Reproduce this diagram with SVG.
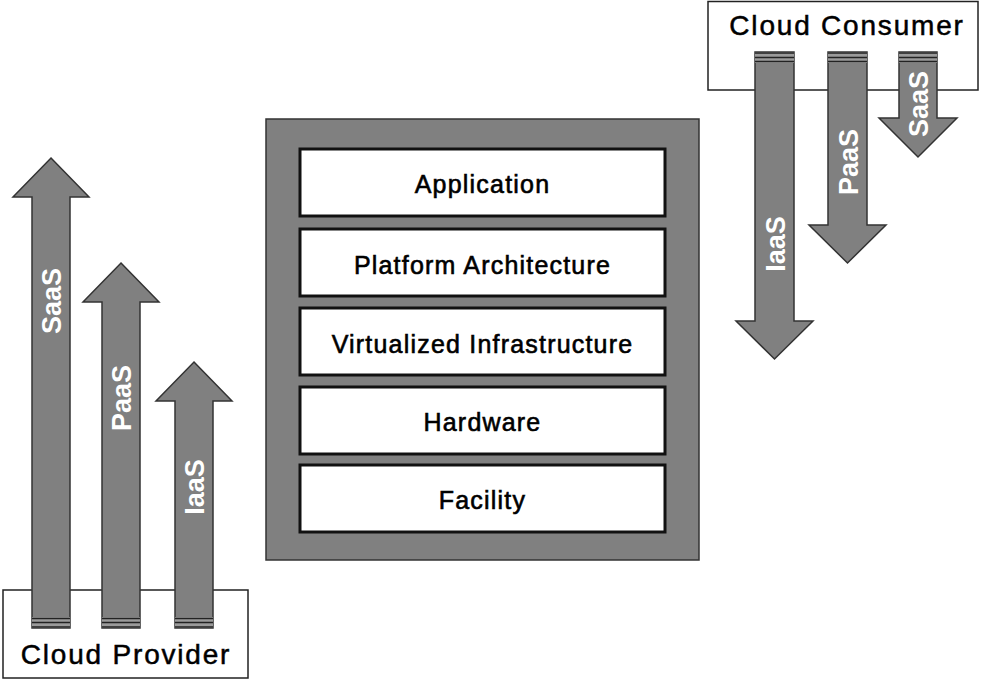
<svg xmlns="http://www.w3.org/2000/svg" width="987" height="679" viewBox="0 0 987 679">
<style>
.actor{fill:#fff;stroke:#222;stroke-width:1.5}
.actor-label{font-family:"Liberation Sans",Arial,sans-serif;font-size:28px;letter-spacing:1.8px;fill:#000;stroke:#000;stroke-width:0.5;text-anchor:middle}
.arrow{fill:#808080;stroke:#333;stroke-width:1.5;stroke-linejoin:miter}
.stripe-bg{fill:#9a9a9a}
.stripe{stroke:#222;stroke-width:1.6}
.arrow-label{font-family:"Liberation Sans",Arial,sans-serif;font-size:27px;font-weight:bold;fill:#fff;text-anchor:middle}
.panel{fill:#808080;stroke:#333;stroke-width:1.5}
.layer{fill:#fff;stroke:#111;stroke-width:3}
.layer-label{font-family:"Liberation Sans",Arial,sans-serif;font-size:25px;letter-spacing:1.2px;fill:#000;stroke:#000;stroke-width:0.6;text-anchor:middle}
</style>
<rect width="987" height="679" fill="#fff"/>

<g id="cloud-provider">
<rect class="actor" x="3" y="590" width="245" height="88"/>
<text class="actor-label" x="126" y="664">Cloud Provider</text>
</g>

<g id="cloud-consumer">
<rect class="actor" x="708" y="1.5" width="270" height="88.5"/>
<text class="actor-label" x="847" y="35">Cloud Consumer</text>
</g>

<g id="stack">
<rect class="panel" x="266" y="119" width="433" height="441"/>
<g id="layer-application">
<rect class="layer" x="300" y="149" width="365" height="67"/>
<text class="layer-label" x="482.5" y="193">Application</text>
</g>
<g id="layer-platform">
<rect class="layer" x="300" y="229" width="365" height="67"/>
<text class="layer-label" x="482.5" y="274">Platform Architecture</text>
</g>
<g id="layer-virtualized">
<rect class="layer" x="300" y="308" width="365" height="67"/>
<text class="layer-label" x="482.5" y="353">Virtualized Infrastructure</text>
</g>
<g id="layer-hardware">
<rect class="layer" x="300" y="387" width="365" height="67"/>
<text class="layer-label" x="482.5" y="431">Hardware</text>
</g>
<g id="layer-facility">
<rect class="layer" x="300" y="465" width="365" height="67"/>
<text class="layer-label" x="482.5" y="509">Facility</text>
</g>
</g>

<g id="connectors">
<g id="provider-saas">
<polygon class="arrow" points="51,158 89,197 70,197 70,628 32,628 32,197 13,197"/>
<rect class="stripe-bg" x="32" y="617" width="38" height="11"/>
<path class="stripe" d="M32,618.5H70M32,622.5H70M32,627H70"/>
<text class="arrow-label" transform="translate(61,301) rotate(-90)">SaaS</text>
</g>
<g id="provider-paas">
<polygon class="arrow" points="121,263 159,302 140,302 140,628 102,628 102,302 83,302"/>
<rect class="stripe-bg" x="102" y="617" width="38" height="11"/>
<path class="stripe" d="M102,618.5H140M102,622.5H140M102,627H140"/>
<text class="arrow-label" transform="translate(131,398) rotate(-90)">PaaS</text>
</g>
<g id="provider-iaas">
<polygon class="arrow" points="194,362 232,401 213,401 213,628 175,628 175,401 156,401"/>
<rect class="stripe-bg" x="175" y="617" width="38" height="11"/>
<path class="stripe" d="M175,618.5H213M175,622.5H213M175,627H213"/>
<text class="arrow-label" transform="translate(204,487) rotate(-90)">IaaS</text>
</g>
<g id="consumer-iaas">
<polygon class="arrow" points="755,52 794,52 794,321 813,321 774.5,359 736,321 755,321"/>
<rect class="stripe-bg" x="755" y="52" width="39" height="11"/>
<path class="stripe" d="M755,53H794M755,57.5H794M755,61.5H794"/>
<text class="arrow-label" transform="translate(785,244) rotate(-90)">IaaS</text>
</g>
<g id="consumer-paas">
<polygon class="arrow" points="828,52 867,52 867,225 886,225 847.5,263 809,225 828,225"/>
<rect class="stripe-bg" x="828" y="52" width="39" height="11"/>
<path class="stripe" d="M828,53H867M828,57.5H867M828,61.5H867"/>
<text class="arrow-label" transform="translate(858,162) rotate(-90)">PaaS</text>
</g>
<g id="consumer-saas">
<polygon class="arrow" points="899,52 937,52 937,118 957,118 918,157 879,118 899,118"/>
<rect class="stripe-bg" x="899" y="52" width="38" height="11"/>
<path class="stripe" d="M899,53H937M899,57.5H937M899,61.5H937"/>
<text class="arrow-label" transform="translate(928,104) rotate(-90)">SaaS</text>
</g>
</g>
</svg>
